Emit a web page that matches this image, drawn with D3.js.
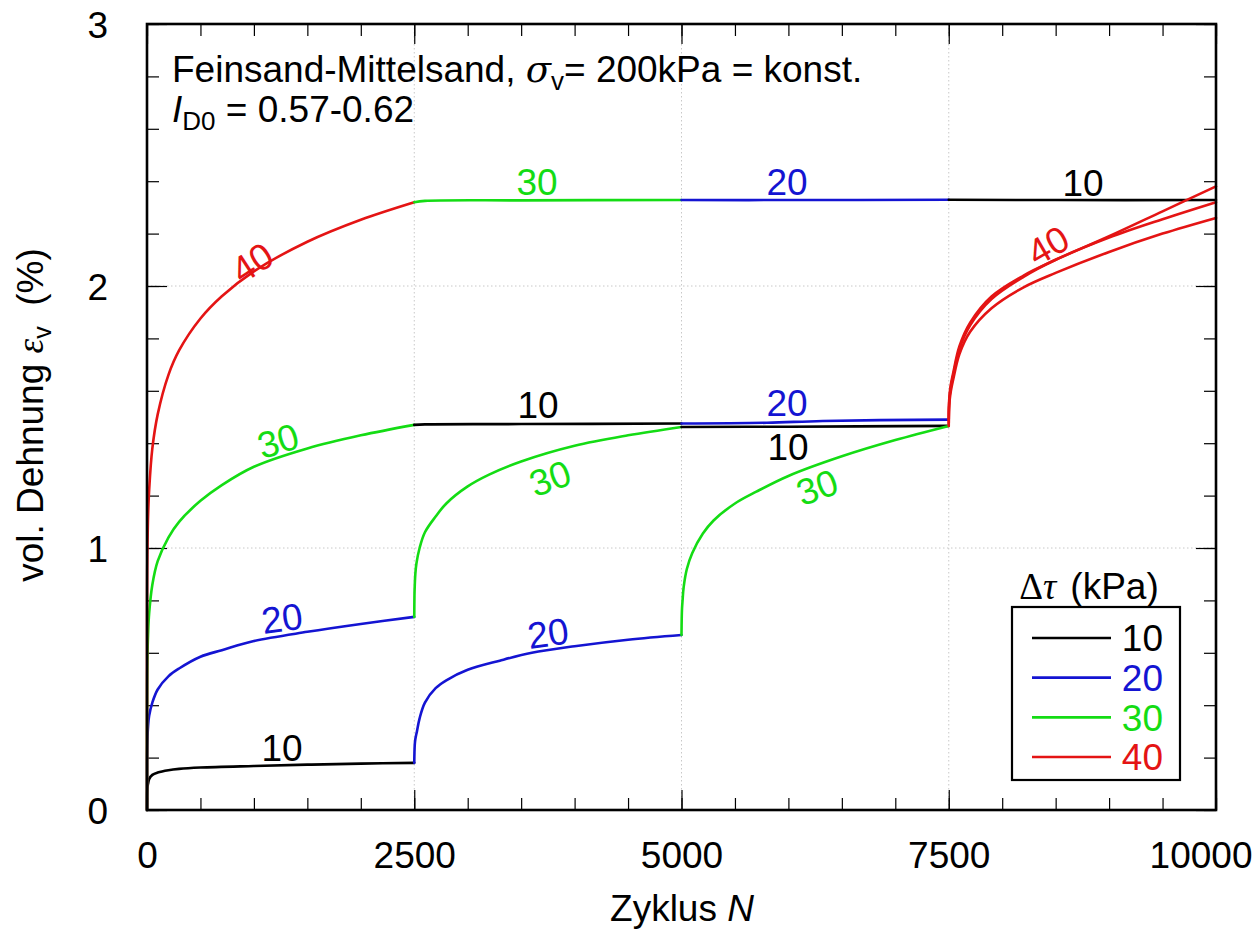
<!DOCTYPE html>
<html><head><meta charset="utf-8">
<script src="https://cdn.jsdelivr.net/npm/d3@7"></script>
<style>
html,body{margin:0;padding:0;background:#fff;}
text{font-family:"Liberation Sans",Arial,sans-serif;}
</style></head>
<body>
<svg id="chart" width="1256" height="931"></svg>
<script>
// ---------- data ----------
const xTickValues = [0, 2500, 5000, 7500, 10000];
const yTickValues = [0, 1, 2, 3];
const seriesKeys = ["10", "20", "30", "40"];
const seriesColors = ["#000000", "#1414d2", "#14dc14", "#e41414"];

// stage 1 (0-2500)
const s1_10 = [[0,0],[1,0.05],[2,0.07],[5,0.09],[10,0.10],[20,0.118],[50,0.134],[100,0.143],[200,0.152],[300,0.157],[500,0.162],[1000,0.168],[1500,0.173],[2000,0.177],[2500,0.18]];
const s1_20 = [[0,0],[0.5,0.18],[1,0.2],[2,0.23],[5,0.28],[10,0.32],[20,0.36],[50,0.41],[100,0.46],[200,0.51],[300,0.54],[500,0.585],[700,0.61],[1000,0.645],[1500,0.68],[2000,0.71],[2500,0.737]];
const s1_30 = [[0,0],[0.5,0.38],[1,0.45],[2,0.52],[5,0.6],[10,0.67],[20,0.75],[50,0.86],[100,0.95],[200,1.04],[300,1.1],[500,1.18],[700,1.24],[1000,1.31],[1500,1.38],[2000,1.43],[2500,1.47]];
const s1_40 = [[0,0],[0.5,0.74],[1,0.83],[2,0.91],[5,1.02],[10,1.12],[20,1.22],[50,1.38],[100,1.51],[200,1.66],[300,1.754],[500,1.876],[700,1.961],[1000,2.056],[1500,2.169],[2000,2.253],[2500,2.32]];
// stage 2 (2500-5000)
const s2_10 = [[2500,1.47],[2600,1.472],[3500,1.473],[5000,1.475]];
const s2_20 = [[2500,0.18],[2502,0.22],[2505,0.25],[2510,0.27],[2525,0.3],[2550,0.35],[2600,0.41],[2700,0.465],[2800,0.495],[3000,0.535],[3300,0.57],[3600,0.6],[4000,0.625],[4500,0.65],[5000,0.668]];
const s2_30lo = [[2500,0.737],[2502,0.82],[2505,0.86],[2510,0.9],[2520,0.94],[2550,1.0],[2600,1.06],[2700,1.12],[2800,1.17],[3000,1.235],[3200,1.28],[3500,1.33],[4000,1.39],[4500,1.43],[5000,1.462]];
const s2_30hi = [[2500,2.32],[2600,2.325],[3500,2.327],[5000,2.328]];
// stage 3 (5000-7500)
const s3_20hi = [[5000,2.328],[6000,2.328],[7500,2.329]];
const s3_20lo = [[5000,1.475],[5800,1.478],[6320,1.485],[7500,1.49]];
const s3_10 = [[5000,1.462],[6000,1.463],[7500,1.466]];
const s3_30 = [[5000,0.668],[5002,0.73],[5005,0.77],[5010,0.8],[5020,0.85],[5050,0.92],[5100,0.98],[5200,1.055],[5300,1.105],[5500,1.17],[5700,1.215],[6000,1.275],[6500,1.35],[7000,1.412],[7500,1.466]];
// stage 4 (7500-10000)
const s4_10 = [[7500,2.329],[8500,2.328],[10000,2.328]];
const s4_40a = [[7500,1.49],[7502,1.545],[7505,1.57],[7510,1.595],[7520,1.625],[7540,1.665],[7600,1.77],[7700,1.86],[7900,1.96],[8200,2.04],[8500,2.1],[9000,2.19],[9500,2.285],[10000,2.38]];
const s4_40b = [[7500,1.475],[7502,1.535],[7505,1.56],[7510,1.585],[7520,1.615],[7540,1.655],[7600,1.76],[7700,1.85],[7900,1.95],[8200,2.035],[8500,2.1],[9000,2.185],[9500,2.255],[10000,2.32]];
const s4_40c = [[7500,1.466],[7502,1.52],[7505,1.545],[7510,1.57],[7520,1.6],[7540,1.64],[7600,1.74],[7700,1.825],[7900,1.915],[8200,1.995],[8500,2.05],[9000,2.13],[9500,2.2],[10000,2.26]];

const segments = [
  {key:"10", pts:s1_10},{key:"20", pts:s1_20},{key:"30", pts:s1_30},{key:"40", pts:s1_40},
  {key:"10", pts:s2_10},{key:"20", pts:s2_20},{key:"30", pts:s2_30lo},{key:"30", pts:s2_30hi},
  {key:"20", pts:s3_20hi},{key:"10", pts:s3_10},{key:"20", pts:s3_20lo},{key:"30", pts:s3_30},
  {key:"10", pts:s4_10},{key:"40", pts:s4_40c},{key:"40", pts:s4_40b},{key:"40", pts:s4_40a}
];

// curve labels: text, N, value, rotation
const curveLabels = [
  ["40", 982, 2.09, -33], ["30", 1225, 1.41, -17], ["20", 1263, 0.733, -8], ["10", 1263, 0.237, 0],
  ["30", 3648, 2.397, 0], ["20", 5987, 2.397, 0], ["10", 8756, 2.393, 0],
  ["10", 3658, 1.546, 0], ["20", 5987, 1.553, 0], ["10", 5996, 1.385, 0],
  ["30", 3770, 1.267, -20], ["30", 6268, 1.233, -20], ["20", 3751, 0.676, -8],
  ["40", 8428, 2.156, -30]
];

// ---------- layout ----------
const svg = d3.select("#chart");
const L = 147, R = 1216, T = 24, B = 810;
const x = d3.scaleLinear().domain([0, 10000]).range([L, R]);
const y = d3.scaleLinear().domain([0, 3]).range([B, T]);
const color = d3.scaleOrdinal().domain(seriesKeys).range(seriesColors);
const FS = 37;

// grid
const g = svg.append("g");
g.selectAll(".gx").data(xTickValues.slice(1, -1)).enter().append("line")
  .attr("x1", d => x(d)).attr("x2", d => x(d)).attr("y1", T).attr("y2", B)
  .attr("stroke", "#c8c8c8").attr("stroke-width", 1).attr("stroke-dasharray", "1.5,2.5");
g.selectAll(".gy").data(yTickValues.slice(1, -1)).enter().append("line")
  .attr("y1", d => y(d)).attr("y2", d => y(d)).attr("x1", L).attr("x2", R)
  .attr("stroke", "#c8c8c8").attr("stroke-width", 1).attr("stroke-dasharray", "1.5,2.5");

// ticks (inside, mirrored)
const xMinor = d3.range(0, 10001, 500);
const yMinor = d3.range(0, 3.001, 0.2);
function tickAxis(axisGen, scale, values, size, transform) {
  svg.append("g").attr("transform", transform)
    .call(axisGen(scale).tickValues(values).tickSize(size).tickFormat(""))
    .call(s => s.select(".domain").remove())
    .call(s => s.selectAll("line").attr("stroke", "#000").attr("stroke-width", 1.2));
}
tickAxis(d3.axisBottom, x, xMinor, -12, `translate(0,${B})`);
tickAxis(d3.axisBottom, x, xTickValues, -20, `translate(0,${B})`);
tickAxis(d3.axisTop, x, xMinor, -12, `translate(0,${T})`);
tickAxis(d3.axisTop, x, xTickValues, -20, `translate(0,${T})`);
tickAxis(d3.axisLeft, y, yMinor, -12, `translate(${L},0)`);
tickAxis(d3.axisLeft, y, yTickValues, -20, `translate(${L},0)`);
tickAxis(d3.axisRight, y, yMinor, -12, `translate(${R},0)`);
tickAxis(d3.axisRight, y, yTickValues, -20, `translate(${R},0)`);

// tick labels
svg.append("g").attr("transform", `translate(0,${B})`)
  .call(d3.axisBottom(x).tickValues(xTickValues).tickSize(0).tickPadding(0).tickFormat(d3.format("d")))
  .call(s => s.select(".domain").remove())
  .call(s => s.selectAll("text").attr("font-size", FS).attr("fill", "#000")
      .attr("font-family", '"Liberation Sans",Arial,sans-serif').attr("dy", null).attr("y", 58))
  .call(s => s.selectAll(".tick").filter(d => d === 10000).select("text")
      .attr("text-anchor", "end").attr("x", 1252 - x(10000)));
svg.append("g").attr("transform", `translate(${L},0)`)
  .call(d3.axisLeft(y).tickValues(yTickValues).tickSize(0).tickPadding(0).tickFormat(d3.format("d")))
  .call(s => s.select(".domain").remove())
  .call(s => s.selectAll("text").attr("font-size", FS).attr("fill", "#000")
      .attr("font-family", '"Liberation Sans",Arial,sans-serif').attr("x", -39).attr("dy", "0.36em"));

// curves
const line = d3.line().x(d => x(d[0])).y(d => y(d[1])).curve(d3.curveCatmullRom.alpha(0.5));
svg.append("g").selectAll("path").data(segments).enter().append("path")
  .attr("d", d => line(d.pts)).attr("fill", "none")
  .attr("stroke", d => color(d.key)).attr("stroke-width", 2.6)
  .attr("stroke-linejoin", "round").attr("stroke-linecap", "round");

// frame
svg.append("rect").attr("x", L).attr("y", T).attr("width", R - L).attr("height", B - T)
  .attr("fill", "none").attr("stroke", "#000").attr("stroke-width", 2.6);

// curve labels
svg.append("g").selectAll("text").data(curveLabels).enter().append("text")
  .attr("transform", d => `translate(${x(d[1])},${y(d[2])}) rotate(${d[3]})`)
  .attr("text-anchor", "middle").attr("dy", "0.36em")
  .attr("font-size", FS).attr("fill", d => color(d[0])).text(d => d[0]);

// title
const t1 = svg.append("text").attr("x", 172).attr("y", 82).attr("font-size", 37);
t1.append("tspan").text("Feinsand-Mittelsand, ");
t1.append("tspan").attr("font-family", '"DejaVu Serif","Liberation Serif",serif').attr("font-style", "italic").text("σ");
t1.append("tspan").attr("font-size", 26).attr("dy", 8).text("v");
t1.append("tspan").attr("dy", -8).text("= 200kPa = konst.");
const t2 = svg.append("text").attr("x", 172).attr("y", 122).attr("font-size", 37);
t2.append("tspan").attr("font-style", "italic").text("I");
t2.append("tspan").attr("font-size", 26).attr("dy", 8).text("D0");
t2.append("tspan").attr("dy", -8).text(" = 0.57-0.62");

// axis titles
const xl = svg.append("text").attr("x", 682).attr("y", 921).attr("text-anchor", "middle").attr("font-size", FS);
xl.append("tspan").text("Zyklus ");
xl.append("tspan").attr("font-style", "italic").text("N");
const yl = svg.append("text").attr("transform", `translate(43,${415}) rotate(-90)`).attr("text-anchor", "middle").attr("font-size", FS);
yl.append("tspan").text("vol. Dehnung ");
yl.append("tspan").attr("font-family", '"Liberation Serif",serif').attr("font-style", "italic").text("ε");
yl.append("tspan").attr("font-size", 25).attr("dy", 8).text("v");
yl.append("tspan").attr("dy", -8).attr("xml:space", "preserve").text("  (%)");

// legend
const lg = svg.append("g");
const lt = lg.append("text").attr("x", 1089).attr("y", 599).attr("text-anchor", "middle").attr("font-size", FS);
lt.append("tspan").attr("font-family", '"Liberation Serif",serif').text("Δ");
lt.append("tspan").attr("font-family", '"Liberation Serif",serif').attr("font-style", "italic").text("τ");
lt.append("tspan").attr("dx", 14).text("(kPa)");
lg.append("rect").attr("x", 1012).attr("y", 607).attr("width", 168).attr("height", 173)
  .attr("fill", "#fff").attr("stroke", "#000").attr("stroke-width", 2.2);
const legY = d3.scalePoint().domain(seriesKeys).range([638, 757]);
const le = lg.selectAll(".le").data(seriesKeys).enter().append("g");
le.append("line").attr("x1", 1032).attr("x2", 1111).attr("y1", d => legY(d)).attr("y2", d => legY(d))
  .attr("stroke", d => color(d)).attr("stroke-width", 2.6);
le.append("text").attr("x", 1163).attr("y", d => legY(d)).attr("dy", "0.36em")
  .attr("text-anchor", "end").attr("font-size", FS).attr("fill", d => color(d)).text(d => d);
</script>
</body></html>
